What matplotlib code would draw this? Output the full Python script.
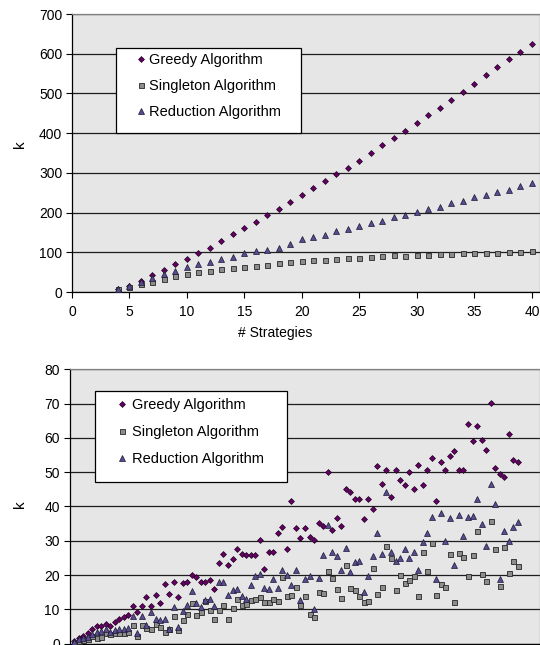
import numpy as np
import matplotlib.pyplot as plt
from matplotlib.lines import Line2D
from matplotlib.patches import Rectangle

# =========================================================
# Data
# =========================================================
# top panel: k against number of strategies
strategies = [4, 5, 6, 7, 8, 9, 10, 11, 12, 13, 14, 15, 16, 17, 18, 19, 20, 21, 22,
              23, 24, 25, 26, 27, 28, 29, 30, 31, 32, 33, 34, 35, 36, 37, 38, 39, 40]
greedy_top = [8, 15, 28, 42, 55, 70, 83, 97, 112, 129, 145, 162, 177, 194, 208, 227,
              245, 262, 280, 297, 313, 331, 350, 369, 387, 406, 426, 445, 463, 483,
              503, 524, 546, 566, 586, 604, 625]
singleton_top = [8, 12, 21, 26, 33, 40, 45, 50, 54, 57, 60, 64, 66, 68, 72, 75, 79,
                 81, 81, 83, 86, 86, 88, 90, 92, 91, 92, 93, 95, 96, 97, 97, 98, 99,
                 101, 101, 103]
reduction_top = [8, 16, 26, 36, 45, 54, 62, 70, 75, 82, 88, 97, 103, 106, 111, 120,
                 133, 139, 144, 153, 158, 166, 173, 179, 188, 194, 202, 208, 215, 225,
                 229, 238, 243, 251, 258, 268, 275]

# bottom panel: one point per instance (x = 1..99)
instance = list(range(1, 100))
greedy_bot = [0.8, 1.5, 2.2, 3.0, 4.3, 5.2, 5.2, 5.6, 5.2, 6.2,
              7.2, 7.8, 8.2, 11.0, 9.2, 11.0, 13.7, 11.0, 14.1, 11.9,
              17.5, 14.5, 18.0, 13.7, 17.6, 18.0, 19.9, 19.5, 18.0, 18.0,
              18.5, 15.9, 23.6, 26.0, 23.0, 24.7, 27.6, 26.2, 25.9, 25.9,
              25.9, 30.1, 21.7, 26.8, 26.8, 32.4, 33.9, 27.7, 41.5, 33.6,
              30.7, 33.6, 31.1, 30.1, 35.2, 34.2, 50.1, 33.1, 36.5, 34.2,
              45.2, 44.1, 42.1, 42.3, 36.4, 42.3, 39.4, 51.8, 46.6, 50.7,
              42.9, 50.7, 47.6, 46.4, 50.1, 45.2, 52.1, 46.4, 50.7, 54.0,
              41.7, 52.9, 50.6, 54.6, 56.1, 50.6, 50.7, 64.0, 59.0, 63.5,
              59.3, 56.4, 70.2, 51.1, 49.6, 48.6, 61.1, 53.5, 53.0]
singleton_bot = [0.3, 0.8, 1.0, 1.2, 2.3, 1.7, 2.0, 3.2, 2.9, 3.1,
                 3.1, 3.1, 3.3, 5.4, 2.3, 5.3, 4.6, 4.4, 5.6, 4.8,
                 3.3, 4.2, 8.1, 4.1, 6.8, 8.6, 11.7, 8.3, 9.3, 12.4,
                 9.9, 7.2, 9.8, 11.3, 7.3, 10.5, 12.9, 11.3, 11.6, 12.8,
                 13.1, 13.7, 12.0, 12.0, 13.0, 12.4, 19.3, 13.9, 14.1, 16.4,
                 11.2, 14.0, 8.7, 7.7, 15.0, 14.9, 21.1, 19.0, 15.8, 13.2,
                 22.9, 16.1, 15.6, 14.0, 12.0, 12.3, 22.0, 14.5, 16.4, 28.4,
                 25.0, 15.5, 19.9, 17.6, 18.5, 19.7, 14.0, 26.6, 21.1, 29.2,
                 14.2, 17.3, 16.6, 26.2, 12.1, 26.5, 25.2, 19.8, 25.7, 32.7,
                 20.3, 18.3, 35.7, 27.6, 16.9, 28.2, 20.5, 24.0, 22.7]
reduction_bot = [0.5, 1.2, 1.6, 2.0, 2.9, 3.4, 3.6, 4.2, 3.5, 4.0,
                 4.3, 4.4, 4.6, 8.0, 3.2, 8.0, 5.5, 9.2, 7.3, 6.9,
                 7.2, 4.4, 10.8, 4.8, 9.6, 11.3, 15.4, 11.8, 10.8, 12.8,
                 12.9, 10.9, 18.1, 18.1, 14.2, 15.5, 15.9, 14.0, 13.1, 17.2,
                 19.8, 20.2, 16.1, 15.8, 18.7, 16.1, 21.4, 20.0, 17.1, 21.6,
                 12.6, 18.8, 19.6, 10.2, 19.0, 25.7, 34.5, 26.7, 25.5, 21.5,
                 27.8, 21.0, 23.7, 24.1, 15.0, 19.6, 25.5, 32.2, 26.2, 44.1,
                 26.7, 24.1, 24.9, 27.7, 25.1, 26.7, 21.6, 29.7, 32.4, 36.8,
                 18.9, 38.0, 30.0, 36.6, 22.9, 37.4, 31.5, 36.8, 37.3, 42.2,
                 34.8, 28.4, 46.5, 40.8, 18.7, 32.7, 29.9, 34.1, 35.5]

labels = ["Greedy Algorithm", "Singleton Algorithm", "Reduction Algorithm"]

# =========================================================
# Style
# =========================================================
plt.rcParams.update({
    "font.family": ["Liberation Sans", "DejaVu Sans"],
    "font.size": 10,
})

W, H = 540, 645
plot_bg = "#E6E6E6"
grid_col = "#1E1E1E"
frame_col = "#808080"

styles = [
    dict(marker="D", ms=3.0, mfc="#660066", mec="#1a001a", mew=0.5),
    dict(marker="s", ms=3.6, mfc="#8C8C8C", mec="#262626", mew=0.6),
    dict(marker="^", ms=4.1, mfc="#5A4A90", mec="#1a1a33", mew=0.5),
]


def px_rect(x0, y0, x1, y1):
    """pixel box (top-left origin) -> figure fraction [l, b, w, h]"""
    return [x0 / W, 1 - y1 / H, (x1 - x0) / W, (y1 - y0) / H]


def style_axes(ax):
    ax.set_facecolor(plot_bg)
    ax.set_axisbelow(True)
    ax.yaxis.grid(True, color=grid_col, linewidth=0.9)
    ax.spines["left"].set_color("black")
    ax.spines["bottom"].set_color("black")
    ax.spines["top"].set_color(frame_col)
    ax.spines["right"].set_color(frame_col)
    for s in ax.spines.values():
        s.set_linewidth(0.9)
    ax.tick_params(direction="out", length=4, width=0.8, labelsize=10,
                   colors="black")
    ax.tick_params(axis="y", pad=3)
    ax.tick_params(axis="x", pad=5)


def add_legend(box, marker_x, first_row_y, row_gap, text_x):
    x0, y0, x1, y1 = box
    rect = Rectangle((x0 / W, 1 - y1 / H), (x1 - x0) / W, (y1 - y0) / H,
                     transform=fig.transFigure, facecolor="white",
                     edgecolor="black", linewidth=0.9, zorder=4)
    fig.add_artist(rect)
    fs = 10.5 * 100 / 72.0
    hl = 1.0
    left = marker_x - hl * fs / 2
    pad = (text_x - left - hl * fs) / fs
    handles = [Line2D([0], [0], linestyle="None", **st) for st in styles]
    row_h = fs * 1.17
    leg = fig.legend(handles, labels, loc="upper left",
                     bbox_to_anchor=(left / W, 1 - (first_row_y - row_h / 2) / H),
                     bbox_transform=fig.transFigure, frameon=False,
                     borderpad=0, borderaxespad=0, handlelength=hl,
                     handletextpad=pad, labelspacing=(row_gap - row_h) / fs,
                     numpoints=1, fontsize=10.5)
    leg.set_zorder(5)


fig = plt.figure(figsize=(W / 100, H / 100), dpi=100)

# =========================================================
# Top panel
# =========================================================
ax1 = fig.add_axes(px_rect(72, 14, 540, 292))
style_axes(ax1)
for y, st in zip([greedy_top, singleton_top, reduction_top], styles):
    ax1.plot(strategies, y, linestyle="None", zorder=3, clip_on=False, **st)
ax1.set_xlim(0, 40.7)
ax1.set_ylim(0, 700)
ax1.set_xticks(np.arange(0, 41, 5))
ax1.set_yticks(np.arange(0, 701, 100))
ax1.set_xlabel("# Strategies", fontsize=10)
ax1.xaxis.label.set_va("center")
ax1.xaxis.set_label_coords((275 - 72) / 468, (292 - 333) / 278)
ax1.set_ylabel("k", fontsize=11)
ax1.yaxis.label.set_va("center")
ax1.yaxis.set_label_coords((20 - 72) / 468, (292 - 144) / 278)

add_legend((116, 48, 301, 133), marker_x=141, first_row_y=62, row_gap=29,
           text_x=149)

# =========================================================
# Bottom panel (x tick labels fall below the cropped picture)
# =========================================================
ax2 = fig.add_axes(px_rect(69.5, 369.3, 540, 643.6))
style_axes(ax2)
for y, st in zip([greedy_bot, singleton_bot, reduction_bot], styles):
    ax2.plot(instance, y, linestyle="None", zorder=3, clip_on=False, **st)
ax2.set_xlim(0, 103.9)
ax2.set_ylim(0, 80)
ax2.set_xticks(np.arange(0, 101, 20))
ax2.tick_params(axis="x", labelbottom=False)
ax2.set_yticks(np.arange(0, 81, 10))
ax2.set_ylabel("k", fontsize=11)
ax2.yaxis.label.set_va("center")
ax2.yaxis.set_label_coords((20 - 69.5) / 470.5, (643.6 - 504) / 274.3)

add_legend((95, 391, 287, 482), marker_x=122, first_row_y=407, row_gap=30,
           text_x=132)

fig.savefig("out.png", dpi=100)
